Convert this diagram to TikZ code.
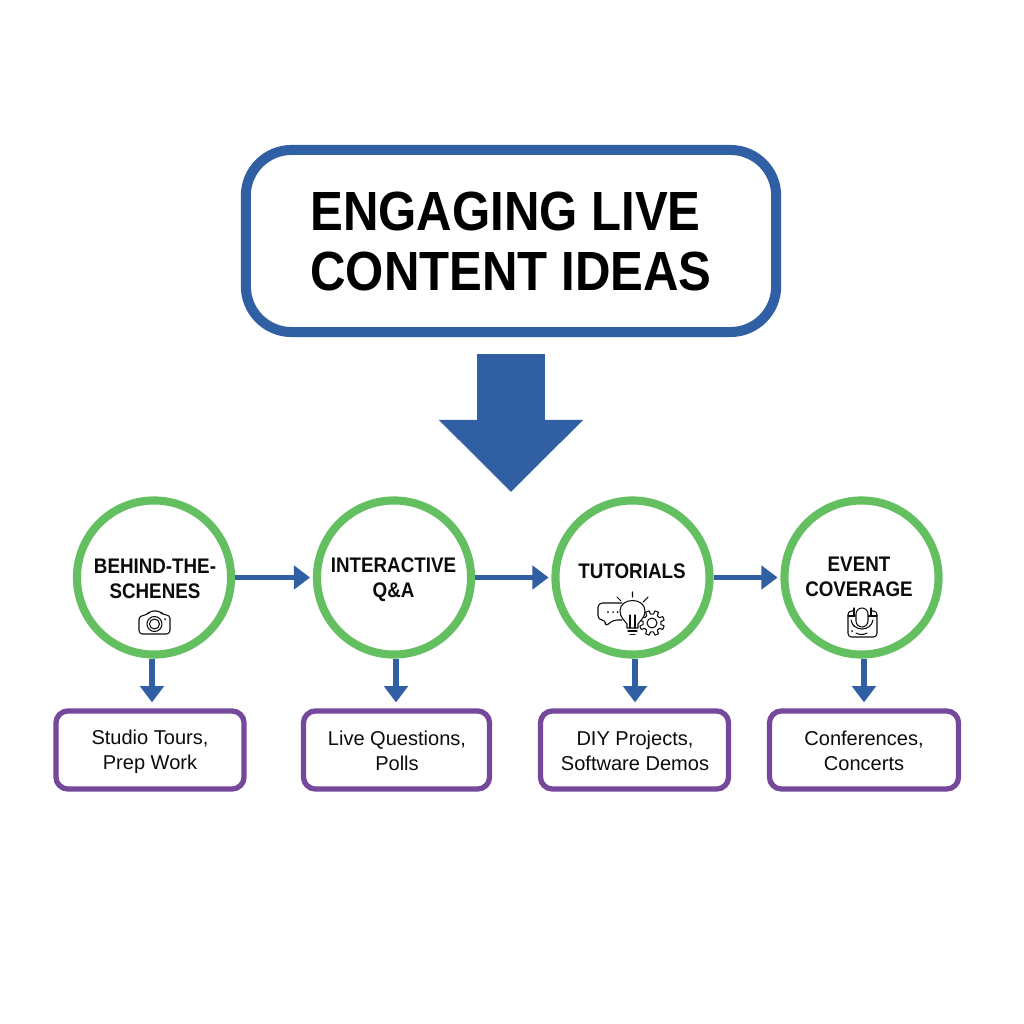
\documentclass[tikz,border=0pt]{standalone}
\usepackage{fontspec}
\setmainfont{Liberation Sans}
\newfontfamily\narrowfont[FakeStretch=0.89]{Liberation Sans}
\usepackage{tikz}
\usetikzlibrary{arrows.meta}
\definecolor{boxblue}{HTML}{3060A3}
\definecolor{ringgreen}{HTML}{64BF60}
\definecolor{boxpurple}{HTML}{75489B}
\definecolor{inkblack}{HTML}{0C0C0C}
\tikzset{
    titlebox/.style={draw=boxblue, fill=white, line width=2.85pt, rounded corners=13pt, minimum width=5.3cm, minimum height=1.82cm},
    ring/.style={draw=ringgreen, fill=white, circle, line width=2.3pt, minimum size=1.54cm},
    ideabox/.style={draw=boxpurple, fill=white, line width=1.5pt, rounded corners=3.4pt, minimum height=.78cm},
    titletext/.style={align=left, text=black, font=\narrowfont\bfseries\fontsize{15.7}{17.3}\selectfont},
    ringtext/.style={align=center, text=inkblack, font=\narrowfont\bfseries\fontsize{6}{7.1}\selectfont},
    ideatext/.style={align=center, text=inkblack, font=\fontsize{5.7}{7.1}\selectfont},
    flow/.style={draw=boxblue, line width=1.6pt, -{Triangle[length=4.6pt,width=6.6pt]}},
    bigflow/.style={draw=boxblue, line width=19.4pt, -{Triangle[length=20.5pt,width=39.8pt]}},
    icon/.style={draw=inkblack, line width=.3pt, line join=round, line cap=round},
}
\begin{document}
\begin{tikzpicture}[x=.01cm, y=-.01cm]
        \useasboundingbox (0,0) rectangle (1024,1024);
        % title
        \node[titlebox] (title) at (511,241) {};
        \node[titletext] (titlelabel) at (511,241.5) {ENGAGING LIVE\\CONTENT IDEAS};
        \coordinate (bigstart) at (511,354);
        \coordinate (bigend) at (511,492);
        \draw[bigflow] (bigstart)--(bigend);
        % circles
        \node[ring] (c1) at (154,577.5) {};
        \node[ring] (c2) at (394,577.5) {};
        \node[ring] (c3) at (632.5,577.5) {};
        \node[ring] (c4) at (861.5,577.5) {};
        \node[ringtext] (t1) at (155,578.5) {BEHIND-THE-\\SCHENES};
        \node[ringtext] (t2) at (393.5,580) {INTERACTIVE\\Q\&A};
        \node[ringtext] (t3) at (632,571.5) {TUTORIALS};
        \node[ringtext] (t4) at (859,577) {EVENT\\COVERAGE};
        % bottom boxes
        \node[ideabox, minimum width=1.88cm] (b1) at (150,750) {};
        \node[ideabox, minimum width=1.86cm] (b2) at (396.5,750) {};
        \node[ideabox, minimum width=1.88cm] (b3) at (634.5,750) {};
        \node[ideabox, minimum width=1.89cm] (b4) at (864,750) {};
        \node[ideatext] (l1) at (150,752) {Studio Tours,\\Prep Work};
        \node[ideatext] (l2) at (397,750.5) {Live Questions,\\Polls};
        \node[ideatext] (l3) at (635,750.5) {DIY Projects,\\Software Demos};
        \node[ideatext] (l4) at (864,750.5) {Conferences,\\Concerts};

        % arrows between the circles
        \draw[flow, shorten >=.8pt] (c1)--(c2);
        \draw[flow, shorten >=.8pt] (c2)--(c3);
        \draw[flow, shorten >=.8pt] (c3)--(c4);
        % arrows down to the boxes
        \coordinate (d1) at (152,700);
        \coordinate (d2) at (396,700);
        \coordinate (d3) at (635,700);
        \coordinate (d4) at (864,700);
        \draw[flow, shorten >=1.7pt] (c1.south -| d1)--(b1.north -| d1);
        \draw[flow, shorten >=1.7pt] (c2.south -| d2)--(b2.north -| d2);
        \draw[flow, shorten >=1.7pt] (c3.south -| d3)--(b3.north -| d3);
        \draw[flow, shorten >=1.7pt] (c4.south -| d4)--(b4.north -| d4);

        % camera
        \draw[icon, rounded corners=1pt] (139,616)--(147,615)--(150,611)--(160,611)--(163,615)--(170,615)--(170,634)--(139,634)--cycle;
        \draw[icon] (154.5,624) circle (7.5);
        \draw[icon] (154.5,624) circle (5);
        \fill[inkblack] (165,619) circle (1);
        % speech bubble, gear, bulb
        \draw[icon, rounded corners=1.2pt] (622,603)--(598,603)--(598,620)--(606,620)--(605,627)--(613,620)--(622,620);
        \fill[inkblack] (608,612) circle (1) (613,612) circle (1) (617.5,612) circle (1);
        \draw[icon, shift={(652,623)}] (0:9) \foreach \a in {0,45,...,315} {--(\a+9:9)--(\a+14:12.5)--(\a+31:12.5)--(\a+36:9)}--cycle;
        \draw[icon] (652,623) circle (5);
        \draw[icon, fill=white] (627,628)--(627,624) .. controls (624,620) and (620,617) .. (620,611) .. controls (620,597) and (645,597) .. (645,611) .. controls (645,617) and (641,620) .. (638,624)--(638,628)--cycle;
        \draw[icon] (628,631)--(637,631) (630,634.5)--(635,634.5);
        \draw[icon] (630,628)--(630,615) (635,628)--(635,615);
        \draw[icon] (632.5,592)--(632.5,597) (617,597)--(621,601) (648,597)--(643,602);
        % calendar with microphone
        \draw[icon, rounded corners=1pt] (854,611)--(848,611)--(848,637)--(877,637)--(877,611)--(871,611);
        \draw[icon] (848,616)--(855,616) (868,616)--(877,616);
        \draw[icon] (854,608)--(854,615) (871,608)--(871,615);
        \draw[icon, fill=white, rounded corners=1.7pt] (856,608) rectangle (868,627);
        \draw[icon] (851,620) .. controls (853,632) and (871,632) .. (873,620);
        \draw[icon] (856,633) .. controls (859,635) and (864,635) .. (867,633);
        \fill[inkblack] (852,631) circle (1) (854,626) circle (.8);
    \end{tikzpicture}
\end{document}
